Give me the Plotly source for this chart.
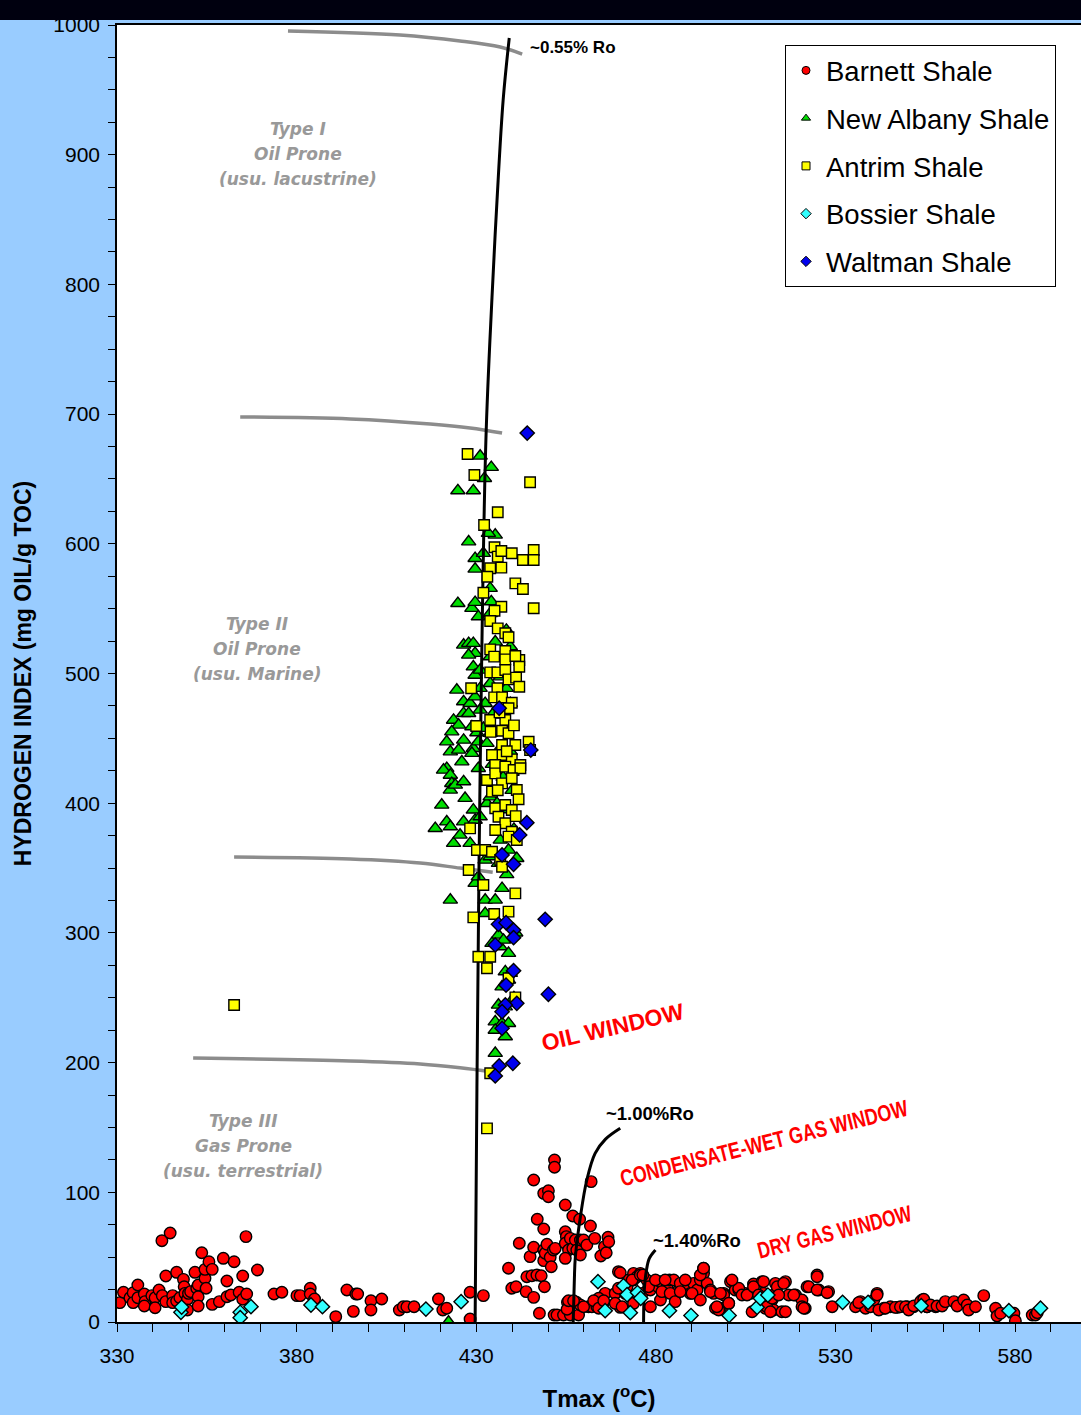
import plotly.graph_objects as go

# ---------------- data: Tmax (degC) and Hydrogen Index (mg HC/g TOC) ----------------
barnett_tmax = [
    330.8, 331.8, 333.6, 334.5, 334.5, 335.8, 335.8, 337.6, 337.8, 337.6, 339.7, 340.6, 340.6, 341.7,
    342.5, 342.6, 343.6, 343.6, 344.8, 345.5, 345.5, 346.6, 346.6, 347.5, 348.5, 348.7, 348.9, 349.6,
    349.6, 349.9, 350.5, 351.7, 352.2, 352.6, 352.6, 352.6, 353.6, 354.5, 354.5, 354.8, 355.6, 356.5,
    356.5, 358.5, 359.6, 360.6, 360.6, 361.7, 362.6, 364.0, 365.0, 365.0, 365.9, 366.1, 369.1, 373.7,
    375.9, 380.1, 381.0, 383.8, 383.8, 385.0, 390.9, 394.0, 395.8, 396.5, 397.0, 400.7, 400.7, 403.7,
    408.6, 409.7, 410.7, 412.7, 419.5, 420.7, 421.8, 428.3, 428.3, 432.0,
    439.0, 439.9, 441.1, 442.0, 443.9, 445.0, 444.1, 445.5, 446.9, 448.1, 449.0, 446.0, 446.0, 446.0,
    447.0, 448.8, 450.1, 450.1, 448.8, 448.8, 448.8, 449.2, 449.7, 450.6, 450.9, 451.5, 452.0, 451.8,
    451.8, 454.8, 454.8, 455.1, 454.8, 455.7, 454.8, 456.9, 456.2, 456.9, 457.6, 458.0, 459.0, 459.0,
    458.8, 459.9, 460.8, 461.8, 462.0, 463.0, 464.7, 465.7, 466.2, 466.7, 466.9, 465.9,
    447.6, 451.7, 452.5, 454.3, 456.2, 458.5, 455.4, 457.9, 459.0, 461.3, 462.2, 463.6, 464.1, 465.5,
    455.3, 455.7, 457.1, 459.9, 462.7, 464.1, 465.5, 468.7, 469.6, 470.1, 471.5, 472.4, 473.8, 473.8,
    474.8, 475.7, 476.2, 477.5, 478.5, 479.9, 480.6, 481.3, 483.1, 483.8, 485.0, 485.6, 486.4, 486.8,
    488.7, 489.6, 490.5, 491.5, 492.4, 493.3, 493.3, 494.3, 495.2, 496.1, 496.6, 498.0, 498.9, 500.8,
    502.1, 503.1, 504.9, 506.3, 507.2, 509.6, 510.0, 510.5, 512.4, 512.8, 513.3, 515.1, 516.1, 517.0,
    518.9, 520.7, 521.6, 522.1, 524.9, 525.4, 528.1, 529.1, 535.6, 537.0, 538.4, 541.6, 543.5, 545.3,
    547.2, 550.0, 551.8, 554.1, 555.5, 557.9,
    500.3, 497.5, 498.9, 503.1, 504.0, 505.4, 506.8, 507.2, 508.6, 510.0, 510.9, 511.9, 512.4, 513.3,
    513.8, 514.2, 515.6, 516.1, 518.4, 520.7, 521.2, 522.6, 524.9, 524.9, 527.7, 536.5, 539.8, 540.7,
    541.6, 542.1, 543.9, 546.7, 548.1, 549.5, 550.4, 551.8, 553.7, 554.6, 555.5, 556.5, 558.3, 559.7,
    560.6, 563.0, 563.9, 565.7, 566.7, 567.1, 569.0, 571.3, 574.6, 575.0, 576.0, 579.7, 580.1, 584.8,
    585.7, 586.2,
    468.7, 469.6, 470.1, 470.6, 472.0, 473.4, 473.8, 475.7, 476.4, 478.0, 478.5, 479.9, 481.3, 481.7,
    482.6, 484.0, 485.4, 486.8, 488.2, 490.1, 492.4, 492.4, 493.3, 495.2, 497.0, 498.0, 500.3, 501.2,
]
barnett_hi = [
    14.9, 22.9, 18.7, 22.6, 14.9, 28.5, 18.7, 21.6, 15.7, 12.3, 20.3, 18.7, 11.0, 24.7,
    62.7, 20.3, 35.5, 15.7, 68.6, 20.3, 14.9, 38.3, 16.2, 18.7, 32.9, 27.2, 22.1, 17.5,
    9.3, 22.1, 23.4, 38.3, 26.0, 28.5, 19.5, 12.3, 53.4, 33.7, 40.6, 26.0, 46.5, 40.6,
    13.6, 15.7, 49.1, 31.6, 19.5, 20.8, 46.5, 22.9, 35.5, 17.5, 65.8, 21.6, 40.1, 21.6,
    22.9, 20.3, 20.3, 26.0, 21.6, 17.7, 4.1, 24.7, 8.2, 21.6, 21.6, 16.4, 9.3, 17.7,
    9.3, 11.8, 11.8, 11.8, 17.7, 9.3, 10.6, 22.9, 2.3, 20.3,
    41.4, 26.0, 27.2, 60.7, 23.4, 50.4, 34.9, 35.7, 36.2, 35.7, 27.2, 19.0, 57.6, 109.5,
    79.2, 99.2, 101.2, 96.6, 71.7, 55.5, 47.3, 53.0, 59.9, 49.9, 42.6, 55.5, 56.8, 124.9,
    119.3, 90.2, 69.6, 65.8, 60.7, 55.5, 49.1, 81.7, 64.5, 56.8, 63.2, 55.5, 63.2, 51.7,
    79.2, 63.2, 59.4, 74.0, 108.2, 64.5, 50.9, 58.1, 53.4, 65.3, 61.9, 22.1,
    6.7, 5.4, 5.4, 5.4, 5.4, 5.4, 15.2, 15.2, 13.1, 11.8, 11.8, 11.8, 18.3, 15.2,
    9.8, 16.4, 16.4, 11.8, 16.4, 10.6, 16.4, 22.1, 38.8, 11.3, 22.1, 32.4, 32.4, 37.5,
    34.9, 37.5, 22.1, 32.4, 24.7, 29.8, 27.2, 31.1, 27.2, 32.4, 32.4, 22.1, 24.7, 29.8,
    24.7, 22.1, 29.8, 24.7, 32.4, 37.5, 41.4, 29.8, 24.7, 22.1, 10.6, 10.6, 22.1, 31.1,
    24.7, 24.7, 22.1, 22.1, 29.3, 31.1, 22.1, 10.6, 17.0, 9.3, 22.1, 7.9, 31.1, 20.8,
    20.8, 17.0, 10.6, 27.2, 36.2, 24.7, 23.4, 11.8, 11.8, 15.7, 10.6, 22.1, 10.6, 11.8,
    11.3, 11.8, 11.8, 17.0, 11.8, 11.8,
    14.4, 9.3, 20.8, 26.0, 20.8, 20.8, 7.9, 27.2, 20.8, 31.1, 11.8, 7.9, 18.3, 29.8,
    27.2, 20.8, 29.8, 7.9, 20.8, 11.8, 10.6, 27.2, 34.9, 24.7, 22.6, 14.9, 11.8, 17.0,
    20.8, 9.3, 10.6, 11.3, 11.8, 11.8, 9.3, 12.3, 15.7, 17.5, 11.8, 13.1, 12.3, 12.3,
    15.7, 15.7, 12.3, 17.0, 13.1, 9.3, 11.8, 20.3, 10.6, 4.6, 6.7, 6.7, 1.0, 5.4,
    5.4, 7.2,
    14.4, 26.0, 38.0, 11.8, 27.2, 32.4, 14.4, 36.2, 36.2, 27.2, 11.8, 32.4, 17.0, 23.4,
    32.4, 22.1, 15.7, 23.4, 32.4, 22.1, 36.2, 17.0, 41.4, 23.4, 11.8, 22.1, 14.4, 32.4,
]

new_albany_tmax = [
    431.1, 434.2, 432.3, 424.9, 429.2, 435.3, 427.9, 433.4, 429.7, 429.7, 432.0, 433.9, 424.9, 428.8,
    429.7, 430.6, 434.2, 433.9, 426.5, 427.9, 429.2, 429.7, 427.9, 429.2, 429.7, 431.1, 433.9, 435.3,
    438.4, 439.5, 436.7, 438.4, 439.5, 433.9, 424.6, 426.5, 428.3, 429.7, 431.1, 432.5, 431.1, 436.7,
    423.7, 425.1, 426.5, 427.9, 428.8, 430.2, 432.0, 433.9, 423.2, 421.8, 422.8, 425.1, 426.5, 429.2,
    430.6, 433.0, 426.0, 428.8, 421.8, 430.6, 420.9, 422.8, 423.2, 422.8, 424.2, 426.5, 426.9, 420.4,
    418.6, 421.8, 422.8, 423.7, 425.5, 426.5, 429.2, 429.7, 428.3, 431.1, 433.0, 433.9, 435.8, 436.7,
    439.0, 441.3, 432.5, 433.9, 436.2, 429.7, 430.6, 432.5, 435.3, 437.2, 422.8, 432.5, 436.2, 434.4,
    436.7, 439.0, 437.6, 438.1, 437.2, 439.0, 436.2, 438.1, 435.3, 437.2, 439.0, 435.3, 438.1, 435.3,
    439.5, 422.3, 434.5, 436.0, 437.5, 438.0, 435.0, 439.5, 440.0, 437.0, 440.5, 438.5, 441.0, 440.5,
]
new_albany_hi = [
    667.7, 659.0, 650.5, 641.0, 641.0, 606.8, 601.6, 608.1, 588.8, 580.6, 592.7, 565.7, 554.1, 550.3,
    554.9, 543.8, 555.4, 546.4, 522.0, 523.3, 523.3, 515.6, 514.3, 505.2, 498.8, 502.7, 513.0, 524.5,
    533.5, 520.7, 497.5, 488.6, 477.0, 492.4, 487.3, 478.3, 477.0, 482.1, 488.6, 477.0, 471.9, 468.0,
    464.1, 460.3, 469.3, 469.3, 459.0, 454.4, 457.8, 453.9, 455.1, 447.4, 439.7, 441.0, 448.7, 442.3,
    447.4, 446.2, 432.0, 438.5, 426.9, 426.9, 425.6, 421.7, 415.3, 410.2, 414.0, 416.6, 403.8, 398.6,
    380.6, 385.7, 381.9, 369.1, 375.5, 385.7, 394.8, 387.0, 369.1, 389.6, 399.9, 405.0, 399.9, 371.6,
    363.9, 357.5, 356.2, 358.8, 353.7, 338.3, 343.3, 325.4, 325.4, 334.4, 325.4, 315.1, 298.4, 292.0,
    289.4, 284.3, 294.5, 270.1, 258.5, 263.7, 244.4, 243.1, 231.5, 230.3, 230.3, 225.1, 220.0, 207.2,
    268.9, 0.0, 430.0, 440.0, 420.0, 455.0, 470.0, 440.0, 410.0, 395.0, 380.0, 345.0, 300.0, 250.0,
]

antrim_tmax = [
    427.6, 429.5, 445.0, 436.0, 432.2, 435.1, 436.0, 437.0, 439.9, 443.0, 446.0, 446.0, 433.9, 437.0,
    433.1, 440.9, 443.0, 432.0, 437.0, 435.1, 446.0, 433.9, 436.0, 438.1, 439.0, 433.9, 435.0, 438.1,
    438.1, 442.0, 442.0, 440.9, 433.9, 435.9, 438.1, 439.0, 441.1, 442.0, 428.6, 435.9, 435.0, 437.2,
    439.9, 439.0, 433.9, 438.1, 437.2, 439.0, 440.9, 437.2, 437.2, 439.9, 442.3, 444.6, 445.0, 434.4,
    435.3, 430.0, 433.0, 435.3, 438.1, 440.4, 442.3, 434.4, 437.2, 439.9, 441.3, 441.8, 435.3, 438.1,
    439.9, 436.2, 438.1, 435.3, 439.9, 428.3, 439.0, 441.3, 430.2, 432.5, 434.4, 436.7, 437.2, 427.9,
    432.0, 440.9, 429.2, 435.0, 439.0, 430.6, 433.9, 433.0, 439.0, 440.9, 433.9, 433.0, 362.6,
    436.5, 440.5, 438.5, 436.0, 441.0, 434.0,
]
antrim_hi = [
    669.2, 653.0, 647.4, 624.3, 614.5, 597.3, 590.1, 594.5, 592.7, 587.5, 595.2, 587.5, 581.1, 581.6,
    574.6, 569.5, 565.2, 562.3, 551.5, 548.4, 550.3, 540.5, 534.8, 531.0, 527.9, 518.6, 513.0, 517.3,
    510.9, 510.4, 505.2, 513.5, 500.9, 500.9, 502.7, 495.5, 496.8, 489.8, 488.6, 488.6, 481.6, 481.6,
    477.5, 473.2, 464.1, 464.1, 455.9, 453.9, 444.9, 444.9, 437.2, 433.8, 429.5, 447.4, 441.0, 437.2,
    429.5, 459.5, 417.9, 423.0, 428.2, 425.6, 426.9, 408.9, 415.3, 419.2, 410.2, 403.0, 396.1, 398.6,
    394.8, 389.6, 384.5, 379.3, 378.0, 380.6, 374.2, 371.6, 363.9, 363.9, 362.6, 356.2, 351.0, 348.5,
    336.9, 330.5, 312.0, 314.6, 316.4, 281.6, 281.6, 272.7, 265.0, 250.3, 191.8, 149.3, 244.4,
    470.0, 460.0, 440.0, 410.0, 390.0, 455.0,
]

bossier_tmax = [
    347.8, 348.0, 364.3, 364.3, 367.3, 384.0, 387.2, 416.0, 425.8, 463.9, 465.9, 471.0, 472.0, 472.9,
    474.9, 475.8, 483.8, 489.8, 500.4, 508.2, 509.1, 511.2, 532.0, 539.1, 553.9, 578.3, 587.1,
]
bossier_hi = [
    7.5, 11.5, 7.5, 3.3, 11.8, 13.1, 11.8, 10.0, 15.7, 31.1, 8.7, 28.0, 21.0, 7.2,
    22.7, 18.3, 8.7, 5.0, 5.0, 11.3, 18.3, 20.8, 15.2, 15.2, 12.6, 8.7, 10.6,
]

waltman_tmax = [
    444.2, 436.4, 445.2, 444.1, 442.1, 437.2, 440.4, 449.2, 436.2, 438.3, 440.4, 440.4, 435.3, 440.4,
    438.3, 450.1, 441.3, 438.1, 437.2, 437.2, 440.2, 436.4, 435.3,
]
waltman_hi = [
    685.4, 473.2, 441.0, 385.0, 375.5, 360.1, 352.9, 310.5, 306.6, 307.9, 302.2, 296.3, 290.7, 270.9,
    259.8, 252.7, 245.7, 244.4, 239.2, 226.4, 199.5, 197.4, 189.7,
]

# ---------------- guide curves (vitrinite reflectance and kerogen-type boundaries) ----------------
ro055_tmax = [429.7, 430.2, 431.1, 432.7, 434.4, 435.8, 437.5, 439.2]
ro055_hi = [0, 180, 425, 680, 790, 865, 942, 990]
ro100_tmax = [457.0, 457.3, 457.6, 459.0, 460.8, 463.1, 466.0, 470.1]
ro100_hi = [0, 30, 50, 81, 109.5, 130, 141, 149.4]
ro140_tmax = [476.6, 476.8, 477.4, 478.2, 479.9]
ro140_hi = [0, 25, 40, 49, 55.5]

type_curves = [
    ([377.6, 408.8, 425.5, 436.7, 442.8], [995.4, 992.3, 987.7, 983.0, 977.6]),
    ([364.3, 394.9, 417.2, 428.3, 437.2], [697.8, 696.3, 692.4, 689.3, 685.4]),
    ([362.6, 394.9, 414.4, 425.5, 434.6], [358.5, 357.0, 353.9, 350.0, 346.8]),
    ([351.2, 394.9, 414.4, 425.5, 434.3], [203.5, 201.2, 198.9, 196.0, 192.9]),
]

x_ticks = [330, 380, 430, 480, 530, 580]
y_ticks = [0, 100, 200, 300, 400, 500, 600, 700, 800, 900, 1000]

FONT = "Liberation Sans, Arial, sans-serif"
WIDE = "DejaVu Sans, Verdana, sans-serif"

fig = go.Figure()


def add_series(x, y, name, symbol, color, size):
    fig.add_trace(go.Scatter(
        x=x, y=y, mode="markers", name=name, showlegend=False, hoverinfo="skip",
        marker=dict(symbol=symbol, color=color, size=size, line=dict(color="black", width=1.4)),
    ))


def add_curve(x, y, color, width):
    fig.add_trace(go.Scatter(
        x=x, y=y, mode="lines", showlegend=False, hoverinfo="skip",
        line=dict(color=color, width=width, shape="spline"),
    ))


add_series(barnett_tmax, barnett_hi, "Barnett Shale", "circle", "#FF0000", 11.5)
add_series(new_albany_tmax, new_albany_hi, "New Albany Shale", "triangle-up", "#00DD00", 12.5)

for cx, cy in type_curves:
    add_curve(cx, cy, "#8C8C8C", 3.5)
add_curve(ro055_tmax, ro055_hi, "black", 3)
add_curve(ro100_tmax, ro100_hi, "black", 3)
add_curve(ro140_tmax, ro140_hi, "black", 3)

add_series(antrim_tmax, antrim_hi, "Antrim Shale", "square", "#FFFF00", 10.5)
add_series(bossier_tmax, bossier_hi, "Bossier Shale", "diamond", "#33FFFF", 11)
add_series(waltman_tmax, waltman_hi, "Waltman Shale", "diamond", "#0000EE", 11)

# legend entries with small symbols
legend_items = [
    ("Barnett Shale", "circle", "#FF0000"),
    ("New Albany Shale", "triangle-up", "#00DD00"),
    ("Antrim Shale", "square", "#FFFF00"),
    ("Bossier Shale", "diamond", "#33FFFF"),
    ("Waltman Shale", "diamond", "#0000EE"),
]
for i, (nm, sym, col) in enumerate(legend_items):
    fig.add_trace(go.Scatter(
        x=[None], y=[None], mode="markers", name=nm, legendgroup=f"g{i}",
        marker=dict(symbol=sym, color=col, size=8, line=dict(color="black", width=1)),
    ))

annotations = []


def label(text, x, y, size, color="black", angle=0, family=FONT, xanchor="center", weight="bold",
          style="normal", yshift=0):
    annotations.append(dict(
        text=text, x=x, y=y, xref="x", yref="y", showarrow=False, textangle=angle,
        xanchor=xanchor, yanchor="middle", yshift=yshift,
        font=dict(family=family, size=size, color=color, weight=weight, style=style),
    ))


label("~0.55% Ro", 444.3, 983, 17, xanchor="left")
label("~1.00%Ro", 465.6, 160.5, 18.5, xanchor="left")
label("~1.40%Ro", 478.8, 62.5, 18.5, xanchor="left")

label("OIL WINDOW", 468.2, 227.4, 23, color="#FF0000", angle=-13)
label("CONDENSATE-WET GAS WINDOW", 510.2, 138.0, 23, color="#FF0000", angle=-14)
label("DRY GAS WINDOW", 529.7, 69.4, 23, color="#FF0000", angle=-14)

type_labels = [
    (["Type I", "Oil Prone", "(usu. lacustrine)"], 380.4, 900.5),
    (["Type II", "Oil Prone", "(usu. Marine)"], 369.0, 518.9),
    (["Type III", "Gas Prone", "(usu. terrestrial)"], 365.1, 135.7),
]
for lines, tx, ty in type_labels:
    for k, line in enumerate(lines):
        label(line, tx, ty, 17, color="#999999", family=WIDE, style="italic", yshift=(1 - k) * 25)

# plot-area geometry (pixels)
W, H = 1081, 1415
ML, MR, MT, MB = 117, 0, 25, 93
plot_w, plot_h = W - ML - MR, H - MT - MB

fig.update_layout(
    width=W, height=H,
    margin=dict(l=ML, r=MR, t=MT, b=MB, pad=0),
    paper_bgcolor="#99CCFF",
    plot_bgcolor="white",
    font=dict(family=FONT, color="black"),
    showlegend=True,
    legend=dict(
        x=(785 - ML) / plot_w, y=1 - (45 - MT) / plot_h, xanchor="left", yanchor="top",
        bgcolor="white", bordercolor="black", borderwidth=1,
        font=dict(family=FONT, size=27.5, color="black"),
        traceorder="grouped", tracegroupgap=9, itemsizing="trace",
    ),
    annotations=annotations,
    shapes=[dict(
        type="rect", xref="paper", yref="paper", layer="above",
        x0=-ML / plot_w - 0.01, x1=1.01, y0=1 + 5 / plot_h, y1=1 + (MT + 5) / plot_h,
        fillcolor="#00000F", line=dict(width=0),
    )],
    xaxis=dict(
        range=[330, 330 + plot_w / 3.592], tickmode="array", tickvals=x_ticks,
        ticktext=[str(v) for v in x_ticks],
        ticks="outside", ticklen=8, tickwidth=1.3, tickcolor="black",
        minor=dict(dtick=10, tick0=330, ticks="outside", ticklen=8, tickwidth=1.3, tickcolor="black"),
        showline=True, linecolor="black", linewidth=1.5, mirror=True,
        showgrid=False, zeroline=False,
        tickfont=dict(family=FONT, size=21, color="black"),
        ticklabelstandoff=6,
        title=dict(text="Tmax (<sup>o</sup>C)", font=dict(family=FONT, size=24, color="black", weight="bold"),
                   standoff=24),
    ),
    yaxis=dict(
        range=[0, 1000], tickmode="array", tickvals=y_ticks,
        ticktext=[str(v) for v in y_ticks],
        ticks="outside", ticklen=7, tickwidth=1.3, tickcolor="black",
        minor=dict(dtick=25, tick0=0, ticks="outside", ticklen=7, tickwidth=1.3, tickcolor="black"),
        showline=True, linecolor="black", linewidth=1.5, mirror=False,
        showgrid=False, zeroline=False,
        tickfont=dict(family=FONT, size=21, color="black"),
        ticklabelstandoff=4,
        title=dict(text="HYDROGEN INDEX (mg OIL/g TOC)",
                   font=dict(family=FONT, size=23, color="black", weight="bold"), standoff=15),
    ),
)

# the gas-window captions use a narrow bold face: condense them horizontally
narrow_js = """
var gd = document.getElementById('{plot_id}');
var widths = {'CONDENSATE-WET GAS WINDOW': 0.775, 'DRY GAS WINDOW': 0.75};
gd.querySelectorAll('text.annotation-text').forEach(function (t) {
    var k = widths[t.textContent];
    if (k) {
        t.style.transformBox = 'fill-box';
        t.style.transformOrigin = 'center';
        t.style.transform = 'scaleX(' + k + ')';
    }
});
"""

fig.write_html("out.html", post_script=narrow_js)
